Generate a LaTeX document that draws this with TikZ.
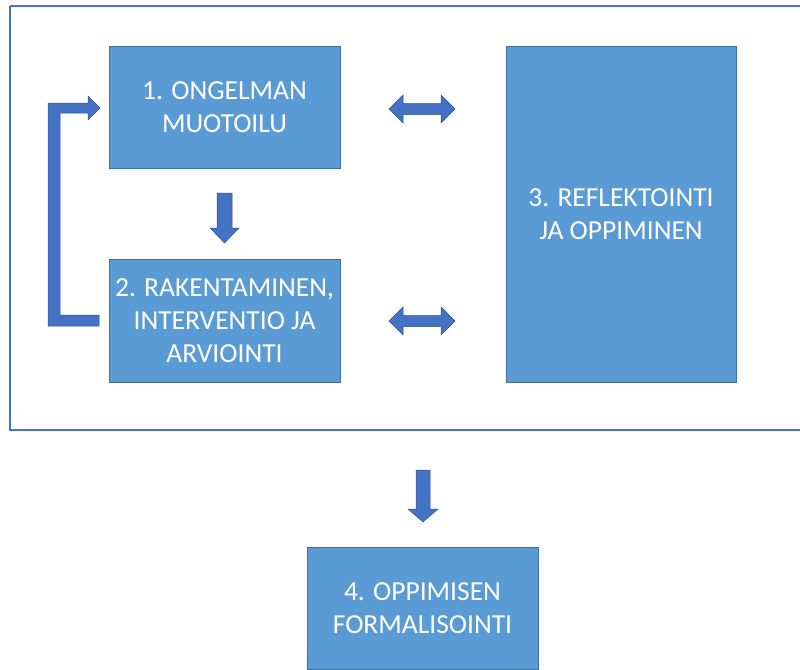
\documentclass[tikz,border=0pt]{standalone}
\usepackage{fontspec}
\setmainfont{Carlito}
\definecolor{boxfill}{RGB}{91,155,213}
\definecolor{boxedge}{RGB}{65,113,156}
\definecolor{arrowfill}{RGB}{68,114,196}
\definecolor{arrowedge}{RGB}{47,82,143}
\definecolor{framecol}{RGB}{68,114,196}
\tikzset{
  phase/.style={rectangle, fill=boxfill, draw=boxedge, line width=0.8pt,
    text=white, align=center, inner sep=0pt,
    font=\fontsize{27.5}{33}\selectfont},
  blockarrow/.style={fill=arrowfill, draw=arrowedge, line width=0.5pt, line join=miter},
}
\begin{document}
\begin{tikzpicture}[x=1pt, y=-1pt]
\useasboundingbox (0,0) rectangle (800,669);
% outer frame around phases 1--3
\draw[framecol, line width=2pt] (10,6) -- (10,430) -- (805,430);
\draw[framecol, line width=2pt] (10,6) -- (805,6);

% phase boxes
\node[phase, minimum width=231pt, minimum height=122pt] (p1) at (224.5,107)
  {1. ONGELMAN\\MUOTOILU};
\node[phase, minimum width=231pt, minimum height=123pt] (p2) at (224.5,320.5)
  {2. RAKENTAMINEN,\\INTERVENTIO JA\\ARVIOINTI};
\node[phase, minimum width=230pt, minimum height=336pt] (p3) at (621,214)
  {3. REFLEKTOINTI\\JA OPPIMINEN};
\node[phase, minimum width=231pt, minimum height=122pt] (p4) at (422.5,608)
  {4. OPPIMISEN\\FORMALISOINTI};

% down arrow 1 -> 2
\draw[blockarrow] (217,193) -- (232,193) -- (232,228) -- (239,228) -- (224.5,243)
  -- (210,228) -- (217,228) -- cycle;
% down arrow to phase 4
\draw[blockarrow] (416,470) -- (430,470) -- (430,509) -- (438,509) -- (423,522)
  -- (408,509) -- (416,509) -- cycle;

% double arrows between the left boxes and phase 3
\foreach \yc in {109,321}{
  \draw[blockarrow] (389,\yc) -- (403,\yc-14) -- (403,\yc-5.5) -- (441,\yc-5.5)
    -- (441,\yc-14) -- (455,\yc) -- (441,\yc+14) -- (441,\yc+5.5) -- (403,\yc+5.5)
    -- (403,\yc+14) -- cycle;
}

% feedback loop from phase 2 back to phase 1
\draw[blockarrow] (48,326) -- (99,326) -- (99,315) -- (60,315) -- (60,113)
  -- (88,113) -- (88,120) -- (100,108) -- (88,96) -- (88,103) -- (48,103) -- cycle;
\end{tikzpicture}
\end{document}
